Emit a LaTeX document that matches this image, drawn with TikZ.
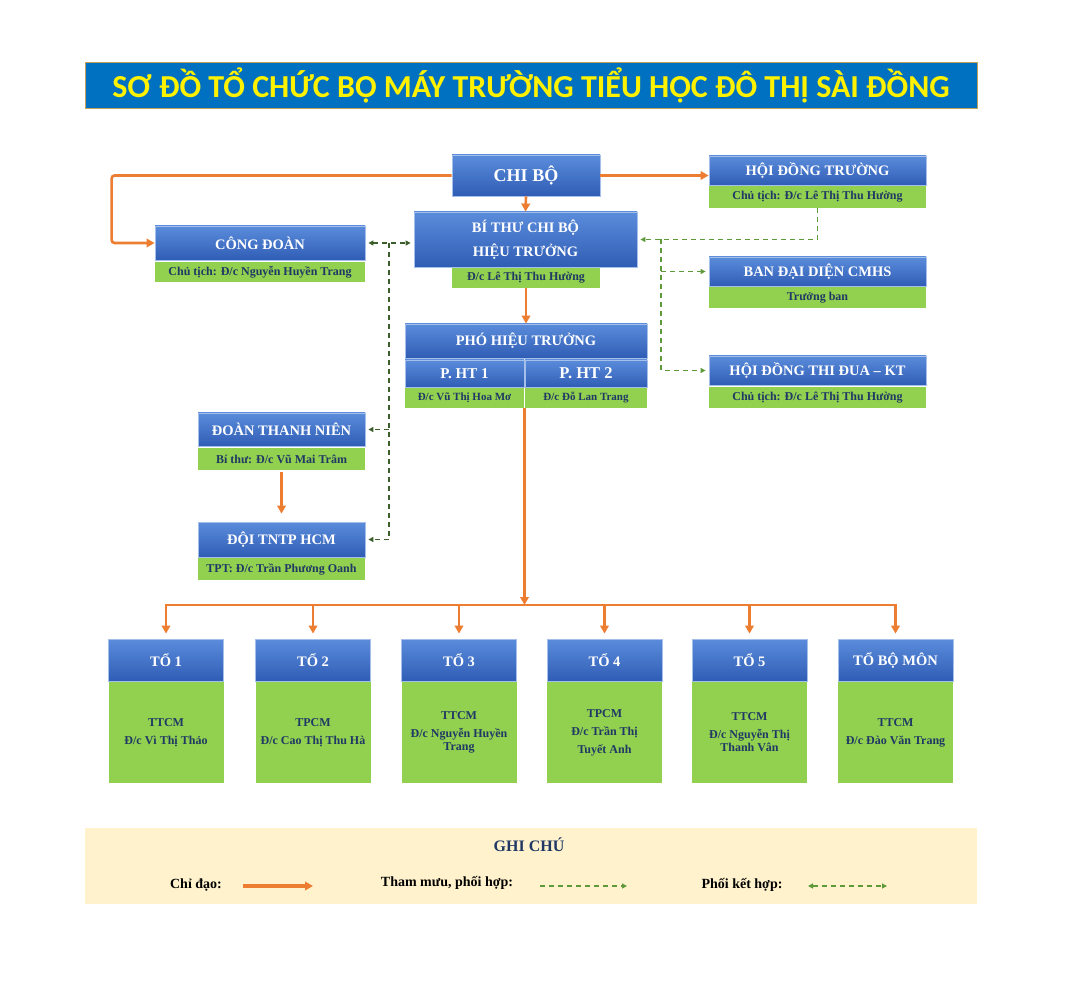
\documentclass[tikz,border=0pt]{standalone}
\usepackage{fontspec}
\setmainfont{Liberation Serif}
\newfontfamily\titlefont{Carlito}
\usepackage{tikz}
\usetikzlibrary{arrows.meta,positioning}
\definecolor{blueT}{HTML}{5B8CDB}
\definecolor{blueB}{HTML}{2F5DB5}
\definecolor{blueE}{HTML}{A3BFEA}
\definecolor{grn}{HTML}{92D050}
\definecolor{navy}{HTML}{1F3864}
\definecolor{orng}{HTML}{ED7D31}
\definecolor{dkgrn}{HTML}{3B5E2B}
\definecolor{ltgrn}{HTML}{5E9A3A}
\definecolor{titleblue}{HTML}{0070C0}
\definecolor{titleedge}{HTML}{C5A059}
\definecolor{legbg}{HTML}{FFF2CC}
\tikzset{
  hdr/.style={rectangle, top color=blueT, bottom color=blueB, draw=blueE, line width=0.8pt,
    text=white, inner sep=0pt, align=center, font=\bfseries\fontsize{14.5}{16}\selectfont},
  info/.style={rectangle, fill=grn, text=navy, inner sep=0pt, align=center,
    font=\bfseries\fontsize{12}{14}\selectfont},
  chidao/.style={orng, line width=2.6pt, -{Triangle[length=8pt,width=8.5pt]}},
  thammuu/.style={ltgrn, line width=1.4pt, dash pattern=on 5pt off 4pt},
  phoihop/.style={dkgrn, line width=1.4pt, dash pattern=on 5pt off 4pt},
  legtext/.style={font=\bfseries\fontsize{14}{16}\selectfont}
}
\begin{document}
\begin{tikzpicture}[x=1pt,y=-1pt,>={Triangle[length=5pt,width=5pt]}]
  \useasboundingbox[fill=white] (0,0) rectangle (1085,1000);
  % title
  \node[fill=titleblue, draw=titleedge, line width=0.8pt, minimum width=892pt, minimum height=46pt,
    text=yellow, font=\titlefont\bfseries\fontsize{32}{32}\selectfont] (title) at (531,85)
    {SƠ ĐỒ TỔ CHỨC BỘ MÁY TRƯỜNG TIỂU HỌC ĐÔ THỊ SÀI ĐỒNG};

  % upper part
  \node[hdr, minimum width=148pt, minimum height=41pt, font=\bfseries\fontsize{18}{20}\selectfont] (chibo) at (526,175.5) {CHI BỘ};
  \node[hdr, minimum width=223pt, minimum height=55pt, font=\bfseries\fontsize{14.5}{24}\selectfont] (bithu) at (525.5,239.5) {BÍ THƯ CHI BỘ\\HIỆU TRƯỞNG};
  \node[info, minimum width=148pt, minimum height=20pt] (bithuG) at (526,278) {Đ/c Lê Thị Thu Hường};

  \node[hdr, minimum width=210pt, minimum height=34pt] (congdoan) at (260,243) {CÔNG ĐOÀN};
  \node[info, minimum width=210pt, minimum height=20pt] (congdoanG) at (260,272) {Chủ tịch: Đ/c Nguyễn Huyền Trang};

  \node[hdr, minimum width=217pt, minimum height=29pt] (hdtruong) at (817.5,170.5) {HỘI ĐỒNG TRƯỜNG};
  \node[info, minimum width=217pt, minimum height=22pt] (hdtruongG) at (817.5,197) {Chủ tịch: Đ/c Lê Thị Thu Hường};
  \node[hdr, minimum width=217pt, minimum height=29pt] (bandd) at (817.5,271.5) {BAN ĐẠI DIỆN CMHS};
  \node[info, minimum width=217pt, minimum height=21pt] (banddG) at (817.5,297.5) {Trưởng ban};
  \node[hdr, minimum width=217pt, minimum height=29pt] (hdtd) at (817.5,370.5) {HỘI ĐỒNG THI ĐUA – KT};
  \node[info, minimum width=217pt, minimum height=21pt] (hdtdG) at (817.5,397.5) {Chủ tịch: Đ/c Lê Thị Thu Hường};

  \node[hdr, minimum width=242pt, minimum height=34pt] (phoht) at (526,341) {PHÓ HIỆU TRƯỞNG};
  \node[hdr, minimum width=119pt, minimum height=27pt, font=\bfseries\fontsize{15}{16}\selectfont] (pht1) at (464.5,373.5) {P. HT 1};
  \node[hdr, minimum width=122pt, minimum height=27pt, font=\bfseries\fontsize{16.5}{18}\selectfont] (pht2) at (586,373.5) {P. HT 2};
  \node[info, minimum width=119pt, minimum height=20pt, font=\bfseries\fontsize{11}{12}\selectfont] (pht1G) at (464.5,398) {Đ/c Vũ Thị Hoa Mơ};
  \node[info, minimum width=122pt, minimum height=20pt, font=\bfseries\fontsize{11}{12}\selectfont] (pht2G) at (586,398) {Đ/c Đỗ Lan Trang};

  \node[hdr, minimum width=167pt, minimum height=33pt] (doan) at (281.5,429.5) {ĐOÀN THANH NIÊN};
  \node[info, minimum width=167pt, minimum height=22pt] (doanG) at (281.5,459) {Bí thư: Đ/c Vũ Mai Trâm};
  \node[hdr, minimum width=167pt, minimum height=35pt] (doi) at (281.5,539.5) {ĐỘI TNTP HCM};
  \node[info, minimum width=167pt, minimum height=22pt] (doiG) at (281.5,569) {TPT: Đ/c Trần Phương Oanh};

  % to chuyen mon
  \foreach \i/\cx/\ten/\cv in {
      1/166/{TỔ 1}/{TTCM\\Đ/c Vì Thị Thảo},
      2/313/{TỔ 2}/{TPCM\\Đ/c Cao Thị Thu Hà},
      3/459/{TỔ 3}/{TTCM\\Đ/c Nguyễn Huyền\\[-5pt]Trang},
      4/604.5/{TỔ 4}/{TPCM\\Đ/c Trần Thị\\Tuyết Anh},
      5/749.5/{TỔ 5}/{TTCM\\Đ/c Nguyễn Thị\\[-5pt]Thanh Vân},
      6/895.5/{TỔ BỘ MÔN}/{TTCM\\Đ/c Đào Văn Trang}} {
    \node[hdr, minimum width=115pt, minimum height=42pt] (t\i) at (\cx,660) {\ten};
    \node[info, minimum width=115pt, minimum height=101pt, font=\bfseries\fontsize{12}{18}\selectfont] (g\i) at (\cx,732.5) {\cv};
  }

  % chi dao
  \draw[chidao, rounded corners=3pt] (chibo.west) -- ++(-340,0) |- (congdoan.west);
  \draw[chidao] (chibo.east) -- (chibo.east -| hdtruong.west);
  \draw[chidao] (chibo.south) -- (bithu.north);
  \draw[chidao] (bithuG.south) -- (phoht.north);
  \coordinate (bus) at (524.5,605);
  \draw[chidao] (pht1G.south east -| bus) -- (bus);
  \foreach \i in {1,...,6} {
    \draw[chidao, shorten >=5pt] (bus) -| (t\i.north);
  }
  \draw[chidao, shorten <=2pt, shorten >=8pt] (doanG.south) -- (doi.north);

  % phoi ket hop
  \draw[phoihop, <->, shorten <=3pt, shorten >=3pt] (congdoan.east) -- (congdoan.east -| bithu.west);
  \coordinate (lTop) at (389,243);
  \coordinate (lBot) at (389,539.5);
  \draw[phoihop] (lTop) -- (lBot);
  \draw[phoihop, ->, shorten >=3pt] (lTop |- doan.east) -- (doan.east);
  \draw[phoihop, ->, shorten >=3pt] (lBot) -- (doi.east);

  % tham muu
  \draw[thammuu, ->, shorten >=3pt] (hdtruongG.south) |- (bithu.east);
  \coordinate (rTop) at (661,239.5);
  \draw[thammuu, ->, shorten >=3pt] (rTop) |- (hdtd.west);
  \draw[thammuu, ->, shorten >=3pt] (rTop |- bandd.west) -- (bandd.west);

  % ghi chu
  \node[fill=legbg, minimum width=892pt, minimum height=76pt, inner sep=0pt] (legend) at (531,866) {};
  \node[text=navy, font=\bfseries\fontsize{16}{18}\selectfont] (ghichu) at (529,845) {GHI CHÚ};
  \node[legtext] (lg1) at (196,885) {Chỉ đạo:};
  \node[legtext] (lg2) at (447,883) {Tham mưu, phối hợp:};
  \node[legtext] (lg3) at (742,885) {Phối kết hợp:};
  \coordinate (cdA) at (243,886);
  \coordinate (cdB) at (313,886);
  \coordinate (tmA) at (540,886);
  \coordinate (tmB) at (627,886);
  \coordinate (pkA) at (808,886);
  \coordinate (pkB) at (887,886);
  \draw[chidao, line width=3.5pt] (cdA) -- (cdB);
  \draw[thammuu, ->] (tmA) -- (tmB);
  \draw[thammuu, <->] (pkA) -- (pkB);
\end{tikzpicture}
\end{document}
